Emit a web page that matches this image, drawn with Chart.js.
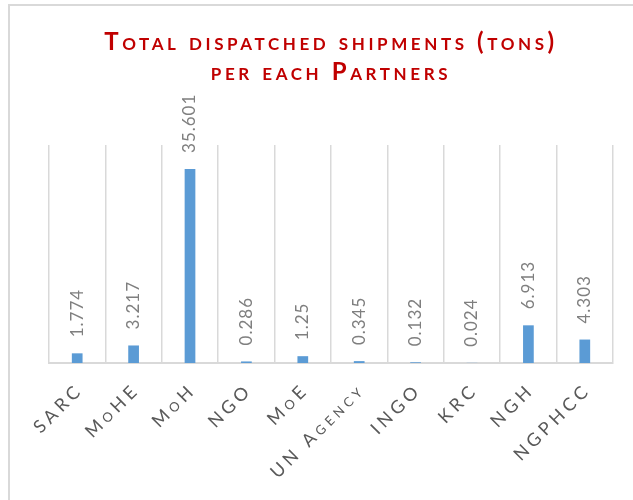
<!DOCTYPE html>
<html><head><meta charset="utf-8">
<script src="https://cdn.jsdelivr.net/npm/chart.js@4.4.1/dist/chart.umd.min.js"></script>
<style>html,body{margin:0;padding:0;background:#fff;overflow:hidden}canvas{display:block}</style>
</head><body>
<canvas id="c" width="633" height="500"></canvas>
<script>
const categories = ['SARC', 'MoHE', 'MoH', 'NGO', 'MoE', 'UN Agency', 'INGO', 'KRC', 'NGH', 'NGPHCC'];
const shipmentTons = [1.774, 3.217, 35.601, 0.286, 1.25, 0.345, 0.132, 0.024, 6.913, 4.303];
const valueLabels = ['1.774', '3.217', '35.601', '0.286', '1.25', '0.345', '0.132', '0.024', '6.913', '4.303'];
const titleLines = ['Total dispatched shipments (tons)', 'per each Partners'];
const yMax = 40;

const framePlugin = {
  id: 'frame',
  beforeDraw(chart) {
    const ctx = chart.ctx;
    ctx.save();
    ctx.fillStyle = '#ffffff';
    ctx.fillRect(0, 0, chart.width, chart.height);
    ctx.fillStyle = '#d9d9d9';
    ctx.fillRect(8, 4, chart.width - 8, 2);
    ctx.fillRect(8, 4, 2, chart.height - 4);
    ctx.restore();
    ctx.letterSpacing = '4.2px';
  }
};

const valueLabelPlugin = {
  id: 'valueLabels',
  afterDatasetsDraw(chart) {
    const ctx = chart.ctx;
    const meta = chart.getDatasetMeta(0);
    ctx.save();
    ctx.letterSpacing = '1px';
    ctx.font = '17px Lato';
    ctx.fillStyle = '#7f7f7f';
    ctx.textAlign = 'left';
    ctx.textBaseline = 'middle';
    meta.data.forEach((bar, i) => {
      ctx.save();
      ctx.translate(bar.x, bar.y - 16);
      ctx.rotate(-Math.PI / 2);
      ctx.fillText(valueLabels[i], 0, 0);
      ctx.restore();
    });
    ctx.restore();
  }
};

const chart = new Chart(document.getElementById('c'), {
  type: 'bar',
  data: {
    labels: categories,
    datasets: [{
      data: shipmentTons,
      backgroundColor: '#5B9BD5',
      categoryPercentage: 1,
      barPercentage: 0.19
    }]
  },
  options: {
    responsive: false,
    animation: false,
    devicePixelRatio: 1,
    layout: { padding: { left: 49, right: 20, top: 0, bottom: 0 } },
    plugins: {
      legend: { display: false },
      tooltip: { enabled: false },
      title: {
        display: true,
        text: titleLines,
        color: '#C00000',
        font: { family: 'Lato', size: 24, weight: 'small-caps bold', lineHeight: '30px' },
        padding: { top: 27, bottom: 58 }
      }
    },
    scales: {
      x: {
        grid: { color: '#d9d9d9', lineWidth: 1.5, offset: true, drawTicks: false },
        border: { color: '#d9d9d9', width: 2 },
        ticks: {
          color: '#595959',
          font: { family: 'Lato', size: 18, weight: 'small-caps' },
          minRotation: 45, maxRotation: 45, padding: 16, labelOffset: 3, autoSkip: false
        },
        afterFit(scale) { scale.height = 137; }
      },
      y: { display: false, min: 0, max: yMax }
    }
  },
  plugins: [framePlugin, valueLabelPlugin]
});

const tb = chart.titleBlock;
if (tb) {
  const origDraw = tb.draw.bind(tb);
  tb.draw = function (area) {
    const ctx = chart.ctx;
    ctx.save();
    ctx.letterSpacing = '3.6px';
    origDraw(area);
    ctx.restore();
  };
  chart.draw();
}
</script>
</body></html>
